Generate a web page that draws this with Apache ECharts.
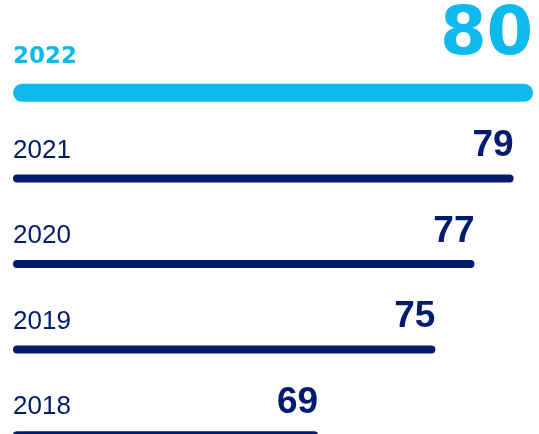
<!DOCTYPE html>
<html>
<head>
<meta charset="utf-8">
<style>
  html, body { margin: 0; padding: 0; background: #ffffff; }
  #chart { width: 539px; height: 434px; }
</style>
<script src="https://cdn.jsdelivr.net/npm/echarts@6/dist/echarts.min.js"></script>
</head>
<body>
<div id="chart"></div>
<script>
const years = ['2022', '2021', '2020', '2019', '2018'];
const values = [80, 79, 77, 75, 69];
const highlightYear = '2022';

const CYAN = '#0eb9eb';
const NAVY = '#011b6e';

const hiData = years.map((y, i) => y === highlightYear ? values[i] : '-');
const restData = years.map((y, i) => y === highlightYear ? '-' : values[i]);

const chart = echarts.init(document.getElementById('chart'), null, { renderer: 'canvas' });

const catAxisBase = {
  type: 'category',
  data: years,
  inverse: true,
  axisLine: { show: false },
  axisTick: { show: false },
  splitLine: { show: false }
};

chart.setOption({
  animation: false,
  backgroundColor: '#ffffff',
  grid: { left: 13, right: 0, top: 50, bottom: -44, containLabel: false, outerBoundsMode: 'none' },
  xAxis: {
    type: 'value',
    min: 53.4,
    max: 80.3,
    show: false
  },
  yAxis: [
    Object.assign({}, catAxisBase, {
      axisLabel: {
        inside: true,
        margin: 0,
        align: 'left',
        verticalAlign: 'bottom',
        formatter: function (v) {
          return v === highlightYear ? '{hl|' + v + '}' : '{n|' + v + '}';
        },
        rich: {
          hl: {
            fontFamily: 'DejaVu Sans',
            fontWeight: 'bold',
            fontSize: 23,
            color: CYAN,
            padding: [0, 0, 24, 0]
          },
          n: {
            fontFamily: 'Liberation Sans',
            fontSize: 26,
            color: NAVY,
            padding: [0, 0, 15, 0]
          }
        }
      }
    }),
    Object.assign({}, catAxisBase, { show: false })
  ],
  series: [
    {
      name: 'highlight',
      type: 'bar',
      yAxisIndex: 1,
      data: hiData,
      barWidth: 18,
      itemStyle: { color: CYAN, borderRadius: 9 },
      label: {
        show: true,
        position: ['100%', 0],
        align: 'right',
        verticalAlign: 'bottom',
        offset: [0, -14],
        fontFamily: 'DejaVu Sans',
        fontWeight: 'bold',
        fontSize: 67,
        color: CYAN,
        formatter: '{c}'
      }
    },
    {
      name: 'years',
      type: 'bar',
      yAxisIndex: 0,
      data: restData,
      barWidth: 8,
      itemStyle: { color: NAVY, borderRadius: 4 },
      label: {
        show: true,
        position: ['100%', 0],
        align: 'right',
        verticalAlign: 'bottom',
        offset: [0, -10],
        fontFamily: 'Liberation Sans',
        fontWeight: 'bold',
        fontSize: 37,
        color: NAVY,
        formatter: '{c}'
      }
    }
  ]
});
</script>
</body>
</html>
